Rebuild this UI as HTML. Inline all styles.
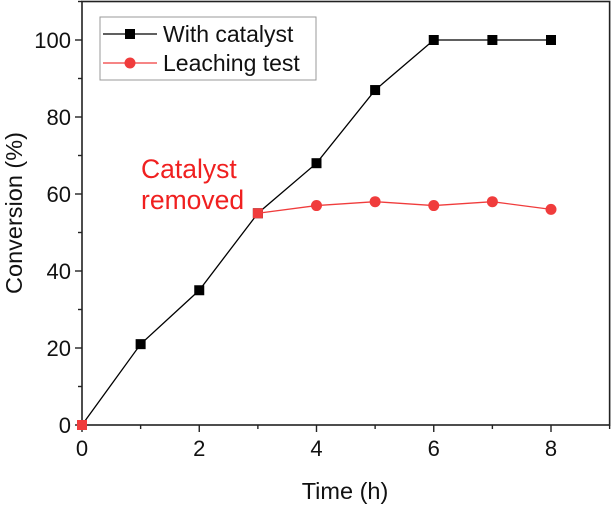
<!DOCTYPE html>
<html><head><meta charset="utf-8"><style>
body{margin:0;background:#fff;}
svg text{font-family:"Liberation Sans",Arial,sans-serif;}
</style></head><body>
<svg id="chart" width="612" height="504" viewBox="0 0 612 504" xmlns="http://www.w3.org/2000/svg">
<g id="axes"></g>
<g id="series"></g>
<g id="legend">
<rect x="100" y="17" width="216" height="63" fill="#fff" stroke="#999" stroke-width="1"/>
<g>
<line x1="103" y1="34" x2="157" y2="34" stroke="#000" stroke-width="1.3"/>
<rect x="125" y="29" width="10" height="10" fill="#000"/>
<text x="163" y="42" font-size="23" fill="#111">With catalyst</text>
</g>
<g>
<line x1="103" y1="63" x2="157" y2="63" stroke="#f03c3c" stroke-width="1.3"/>
<circle cx="130" cy="63" r="5.5" fill="#f03c3c"/>
<text x="163" y="71" font-size="23" fill="#111">Leaching test</text>
</g>
</g>
<text x="141" y="178" font-size="26.5" fill="#f02020"><tspan x="141">Catalyst</tspan><tspan x="141" dy="31">removed</tspan></text>
<text x="345" y="499" font-size="23.5" text-anchor="middle" fill="#111">Time (h)</text>
<text transform="translate(22,213) rotate(-90)" font-size="23.5" text-anchor="middle" fill="#111">Conversion (%)</text>
</svg>
<script>
const timeH=[0,1,2,3,4,5,6,7,8];
const withCatalyst=[0,21,35,55,68,87,100,100,100];
const leachTime=[3,4,5,6,7,8];
const leachConv=[55,57,58,57,58,56];
const xTicks=[0,2,4,6,8];
const yTicks=[0,20,40,60,80,100];
const NS="http://www.w3.org/2000/svg";
const X=v=>82+v*(551-82)/8;
const Y=v=>425-v*3.85;
function mk(t,a,p){const e=document.createElementNS(NS,t);for(const k in a)e.setAttribute(k,a[k]);p.appendChild(e);return e;}
const ax=document.getElementById('axes');
const frame=mk('rect',{x:X(0),y:Y(110),width:X(9)-X(0),height:Y(0)-Y(110),fill:'none',stroke:'#222','stroke-width':1.6},ax);


for(let v=0;v<=9;v++){const major=v%2===0;mk('line',{x1:X(v),x2:X(v),y1:Y(0),y2:Y(0)+(major?7:4),stroke:'#222','stroke-width':1.4},ax);}
xTicks.forEach(v=>{const t=mk('text',{x:X(v),y:Y(0)+31,'font-size':22,'text-anchor':'middle',fill:'#111'},ax);t.textContent=v;

});
for(let v=0;v<=110;v+=10){const major=v%20===0;mk('line',{x1:X(0),x2:X(0)-(major?7:4),y1:Y(v),y2:Y(v),stroke:'#222','stroke-width':1.4},ax);}
yTicks.forEach(v=>{const t=mk('text',{x:X(0)-11,y:Y(v)+8,'font-size':22,'text-anchor':'end',fill:'#111'},ax);t.textContent=v;

});
const s=document.getElementById('series');
const l1=mk('polyline',{points:timeH.map((t,i)=>X(t)+','+Y(withCatalyst[i])).join(' '),fill:'none',stroke:'#000','stroke-width':1.3},s);


timeH.forEach((t,i)=>{const r=mk('rect',{x:X(t)-5,y:Y(withCatalyst[i])-5,width:10,height:10,fill:i===0?'#f03c3c':'#000'},s);

});
const l2=mk('polyline',{points:leachTime.map((t,i)=>X(t)+','+Y(leachConv[i])).join(' '),fill:'none',stroke:'#f03c3c','stroke-width':1.3},s);


leachTime.forEach((t,i)=>{let m;if(i===0){m=mk('rect',{x:X(t)-5,y:Y(leachConv[i])-5,width:10,height:10,fill:'#f03c3c'},s);}else{m=mk('circle',{cx:X(t),cy:Y(leachConv[i]),r:5.5,fill:'#f03c3c'},s);}

});
</script>
</body></html>
